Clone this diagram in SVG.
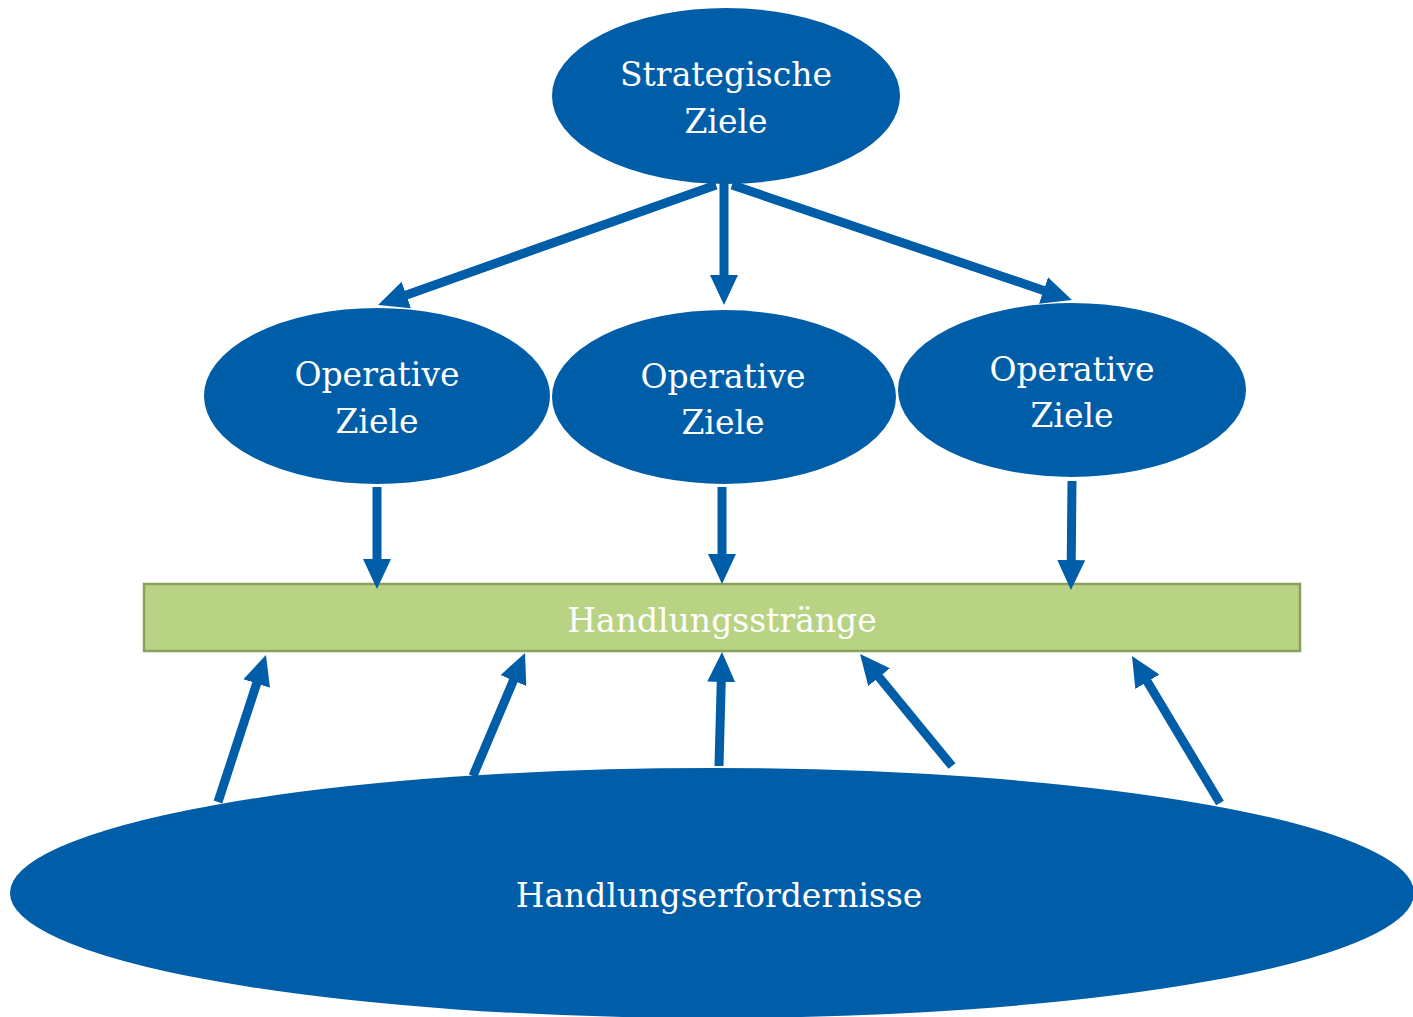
<svg xmlns="http://www.w3.org/2000/svg" width="1413" height="1017" viewBox="0 0 1413 1017">
<defs>
<style>
.n{fill:#005DA8;stroke:#fff;stroke-width:2}
.t{fill:#fff;font-family:"DejaVu Serif","Liberation Serif",serif;font-size:33px;text-anchor:middle}
.c{stroke:#005DA8;stroke-width:9;fill:none}
</style>
<marker id="ah" markerUnits="userSpaceOnUse" markerWidth="30" markerHeight="28" refX="14" refY="14" orient="auto" viewBox="0 0 30 28">
<path d="M0,0 L30,14 L0,28 Z" fill="#005DA8"/>
</marker>
</defs>
<rect width="1413" height="1017" fill="#fff"/>
<g id="handlungserfordernisse">
<ellipse class="n" cx="712" cy="893" rx="703" ry="126"/>
<text class="t" x="719" y="907">Handlungserfordernisse</text>
</g>
<g id="strategische">
<ellipse class="n" cx="726" cy="96" rx="175" ry="89"/>
<text class="t" x="726" y="86">Strategische</text>
<text class="t" x="726" y="133">Ziele</text>
</g>
<g id="op1">
<ellipse class="n" cx="377" cy="396" rx="174" ry="89"/>
<text class="t" x="377" y="386">Operative</text>
<text class="t" x="377" y="433">Ziele</text>
</g>
<g id="op2">
<ellipse class="n" cx="724" cy="397" rx="173" ry="88"/>
<text class="t" x="723" y="388">Operative</text>
<text class="t" x="723" y="434">Ziele</text>
</g>
<g id="op3">
<ellipse class="n" cx="1072" cy="390" rx="175" ry="88"/>
<text class="t" x="1072" y="381">Operative</text>
<text class="t" x="1072" y="427">Ziele</text>
</g>
<g id="handlungsstraenge">
<rect x="144" y="584" width="1156" height="67" fill="#B8D383" stroke="#8AA15E" stroke-width="2.5"/>
<text class="t" x="722" y="632">Handlungsstränge</text>
</g>
<g id="connectors" class="c">
<line x1="716" y1="185" x2="393.1" y2="299.7" marker-end="url(#ah)"/>
<line x1="724" y1="183" x2="724" y2="289" marker-end="url(#ah)"/>
<line x1="732" y1="185" x2="1056.8" y2="294.9" marker-end="url(#ah)"/>
<line x1="377" y1="487" x2="377" y2="573" marker-end="url(#ah)"/>
<line x1="722" y1="487" x2="722" y2="568" marker-end="url(#ah)"/>
<line x1="1072" y1="481" x2="1071.1" y2="574" marker-end="url(#ah)"/>
<line x1="218" y1="802" x2="261" y2="670.2" marker-end="url(#ah)"/>
<line x1="473" y1="776" x2="518.8" y2="667.7" marker-end="url(#ah)"/>
<line x1="719" y1="766" x2="721.6" y2="668" marker-end="url(#ah)"/>
<line x1="952" y1="766" x2="870.2" y2="666.4" marker-end="url(#ah)"/>
<line x1="1220" y1="803" x2="1140.2" y2="669.7" marker-end="url(#ah)"/>
</g>
</svg>
